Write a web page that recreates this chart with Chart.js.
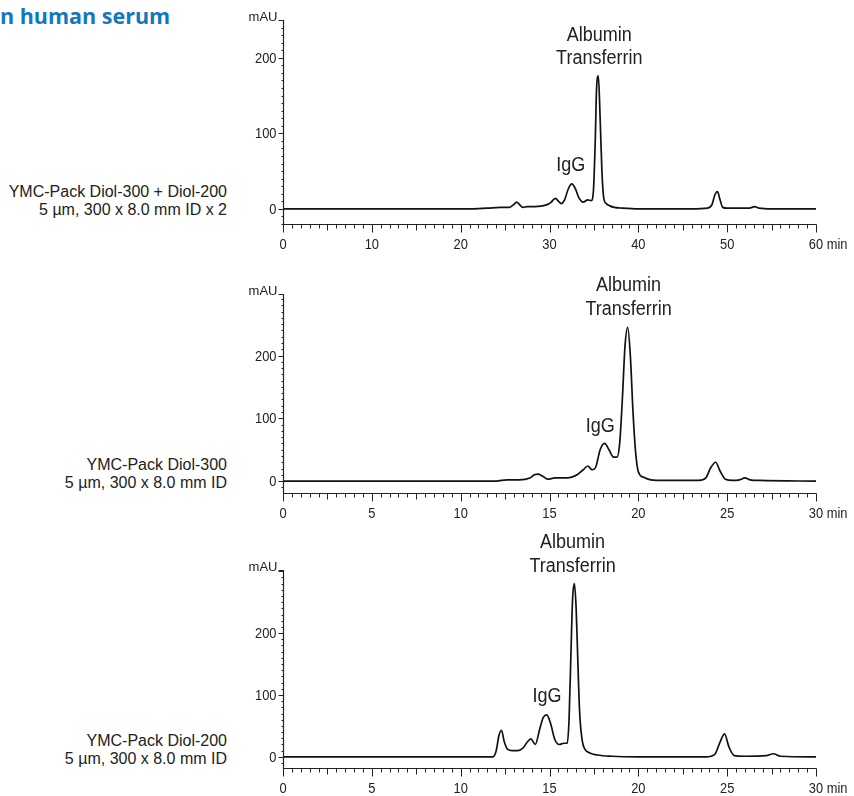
<!DOCTYPE html>
<html>
<head>
<meta charset="utf-8">
<script src="https://cdn.jsdelivr.net/npm/chart.js@4"></script>
<style>
  body { margin: 0; background: #fff; width: 854px; height: 796px; position: relative; overflow: hidden; }
  canvas { position: absolute; left: 0; }
  .title { position: absolute; left: 0; top: 1px; font: bold 21.5px "Open Sans", sans-serif; color: #1477bd; white-space: nowrap; }
  .col { position: absolute; right: 627px; text-align: right; font: 16px "Liberation Sans", Arial, sans-serif; color: #222; line-height: 18px; white-space: nowrap; }
</style>
</head>
<body>
<div class="title">n human serum</div>
<div class="col" style="top:183px">YMC-Pack Diol-300 + Diol-200<br>5 µm, 300 x 8.0 mm ID x 2</div>
<div class="col" style="top:456px">YMC-Pack Diol-300<br>5 µm, 300 x 8.0 mm ID</div>
<div class="col" style="top:732px">YMC-Pack Diol-200<br>5 µm, 300 x 8.0 mm ID</div>
<canvas id="chart1" width="854" height="265" style="top:0"></canvas>
<canvas id="chart2" width="854" height="265" style="top:265px"></canvas>
<canvas id="chart3" width="854" height="266" style="top:530px"></canvas>
<script>
// 目盛ラベル
const yTickLabels = [0, 100, 200];
const c1XLabels = [0, 10, 20, 30, 40, 50, 60];
const c23XLabels = [0, 5, 10, 15, 20, 25, 30];

// Diol-300 + Diol-200 (60 min)
const c1Time = [0, 21, 23, 24.5, 25.5, 26, 26.3, 26.6, 27.0, 27.5, 28.3, 29.2, 29.8, 30.2, 30.5, 30.7, 30.95, 31.3, 31.7, 32.1, 32.5, 32.9, 33.3, 33.8, 34.3, 34.7, 34.95, 35.15, 35.3, 35.5, 35.7, 35.9, 36.1, 36.4, 36.8, 37.3, 38.2, 40, 46, 47.8, 48.3, 48.6, 48.9, 49.2, 49.5, 50, 52.5, 53.1, 53.6, 55, 60];
const c1Value = [0, 0, 1, 2, 2, 6, 9, 6, 2, 3, 3, 4, 6, 9, 13, 14, 11, 7, 12, 26, 33, 27, 15, 9, 12, 11, 25, 90, 160, 176, 120, 50, 15, 7, 4, 2, 1, 0, 0, 1, 6, 18, 23, 12, 2, 1, 1, 3, 1, 0, 0];

// Diol-300 (30 min)
const c2Time = [0, 12.0, 12.6, 13.3, 13.9, 14.15, 14.35, 14.6, 14.9, 15.3, 15.8, 16.2, 16.6, 16.9, 17.15, 17.4, 17.6, 17.85, 18.1, 18.35, 18.6, 18.8, 18.95, 19.1, 19.25, 19.4, 19.55, 19.7, 19.85, 20.0, 20.3, 20.7, 21.5, 23.4, 23.8, 24.05, 24.35, 24.6, 24.9, 25.3, 25.7, 26.0, 26.3, 26.8, 30];
const c2Value = [0, 0, 2, 2, 5, 10, 11, 8, 3, 5, 5, 6, 11, 18, 24, 18, 22, 50, 60, 50, 38, 38, 60, 130, 215, 245, 200, 110, 45, 15, 6, 2, 1, 1, 5, 20, 30, 16, 3, 1, 2, 5, 2, 1, 0];

// Diol-200 (30 min)
const c3Time = [0, 11.8, 12.0, 12.15, 12.3, 12.45, 12.65, 12.9, 13.2, 13.5, 13.75, 13.95, 14.2, 14.45, 14.65, 14.85, 15.05, 15.3, 15.55, 15.8, 16.0, 16.1, 16.2, 16.3, 16.4, 16.5, 16.6, 16.7, 16.85, 17.0, 17.3, 17.7, 18.5, 20, 23.8, 24.3, 24.6, 24.85, 25.1, 25.4, 26, 27.2, 27.6, 28.0, 30];
const c3Value = [0, 0, 10, 34, 43, 25, 12, 10, 10, 14, 24, 29, 20, 45, 64, 68, 55, 28, 20, 22, 22, 60, 160, 255, 280, 240, 150, 70, 25, 12, 6, 3, 1, 0, 0, 4, 24, 37, 16, 2, 1, 2, 5, 1, 0];

// ピーク名 [time, 値(ベースライン位置), テキスト]
const c1Peaks = [[35.6, 222, "Albumin"], [35.6, 192, "Transferrin"], [32.4, 50, "IgG"]];
const c2Peaks = [[19.45, 303, "Albumin"], [19.45, 264, "Transferrin"], [17.85, 78, "IgG"]];
const c3Peaks = [[16.3, 338, "Albumin"], [16.3, 298, "Transferrin"], [14.86, 88, "IgG"]];

const FONT = '"Liberation Sans", Arial, sans-serif';

function drawText(ctx, text, x, y, align, size, sx) {
    ctx.save();
    ctx.font = `${size}px ${FONT}`;
    ctx.textBaseline = 'alphabetic';
    const w = ctx.measureText(text).width * sx;
    let left = x;
    if (align === 'center') left = x - w / 2;
    if (align === 'right') left = x - w;
    ctx.translate(left, y);
    ctx.scale(sx, 1);
    ctx.textAlign = 'left';
    ctx.fillText(text, 0, 0);
    ctx.restore();
    return w;
}

// 軸・目盛・ラベルを描くプラグイン
const chromPlugin = {
    id: 'chrom',
    afterDraw(chart, args, opts) {
        const { ctx, chartArea: a, scales: { x, y } } = chart;
        const L = Math.round(a.left) + 0.5;
        const B = Math.round(a.bottom) + 0.5;
        ctx.save();
        ctx.strokeStyle = '#222';
        ctx.fillStyle = '#222';
        ctx.lineWidth = 1.2;
        ctx.beginPath();
        ctx.moveTo(L, a.top);
        ctx.lineTo(L, B);
        ctx.lineTo(Math.round(a.right) + 0.5, B);
        ctx.stroke();

        // y 目盛
        ctx.lineWidth = 1;
        ctx.beginPath();
        for (let v = Math.ceil(y.min / 10) * 10; v <= y.max; v += 10) {
            const py = Math.round(y.getPixelForValue(v)) + 0.5;
            const len = v % 100 === 0 ? 5 : 2;
            ctx.moveTo(L - len, py);
            ctx.lineTo(L, py);
        }
        ctx.moveTo(L - 5, a.top + 0.5);
        ctx.lineTo(L, a.top + 0.5);
        ctx.stroke();
        yTickLabels.forEach(v => {
            drawText(ctx, String(v), L - 7, y.getPixelForValue(v) + 5, 'right', 14, 0.92);
        });
        drawText(ctx, 'mAU', L - 6, a.top + 1, 'right', 13, 1);

        // x 目盛
        const n = Math.round(x.max / opts.minor);
        ctx.beginPath();
        for (let i = 0; i <= n; i++) {
            const v = i * opts.minor;
            const px = Math.round(x.getPixelForValue(v)) + 0.5;
            let len = 4;
            if (i % (opts.major / opts.minor) === 0) len = 8;
            else if (i % (opts.mid / opts.minor) === 0) len = 6;
            ctx.moveTo(px, B);
            ctx.lineTo(px, B + len);
        }
        ctx.stroke();
        opts.labels.forEach((v, i) => {
            const px = x.getPixelForValue(v);
            const w = drawText(ctx, String(v), px, B + 24, 'center', 14, 0.92);
            if (i === opts.labels.length - 1) {
                drawText(ctx, ' min', px + w / 2, B + 24, 'left', 14, 0.92);
            }
        });

        // ピーク名
        opts.peaks.forEach(([t, v, s]) => {
            drawText(ctx, s, x.getPixelForValue(t), y.getPixelForValue(v), 'center', 20, 0.9);
        });
        ctx.restore();
    }
};

function createChart(canvasId, times, values, xMax, yMin, yMax, padding, axisOpts) {
    const canvas = document.getElementById(canvasId);
    return new Chart(canvas, {
        type: 'line',
        data: {
            datasets: [{
                data: times.map((t, i) => ({ x: t, y: values[i] })),
                borderColor: '#111',
                borderWidth: 1.7,
                pointRadius: 0,
                fill: false,
                cubicInterpolationMode: 'monotone'
            }]
        },
        options: {
            responsive: false,
            animation: false,
            devicePixelRatio: 1,
            layout: { padding: padding },
            plugins: {
                legend: { display: false },
                tooltip: { enabled: false },
                chrom: axisOpts
            },
            scales: {
                x: { type: 'linear', min: 0, max: xMax, display: false },
                y: { type: 'linear', min: yMin, max: yMax, display: false }
            }
        },
        plugins: [chromPlugin]
    });
}

createChart('chart1', c1Time, c1Value, 60, -20, 250,
    { left: 283, right: 38, top: 20, bottom: 41 },
    { minor: 1, mid: 5, major: 10, labels: c1XLabels, peaks: c1Peaks });
createChart('chart2', c2Time, c2Value, 30, -19, 298,
    { left: 283, right: 38, top: 29, bottom: 37 },
    { minor: 0.5, mid: 2.5, major: 5, labels: c23XLabels, peaks: c2Peaks });
createChart('chart3', c3Time, c3Value, 30, -18, 302,
    { left: 283, right: 38, top: 40, bottom: 28 },
    { minor: 0.5, mid: 2.5, major: 5, labels: c23XLabels, peaks: c3Peaks });
</script>
</body>
</html>
